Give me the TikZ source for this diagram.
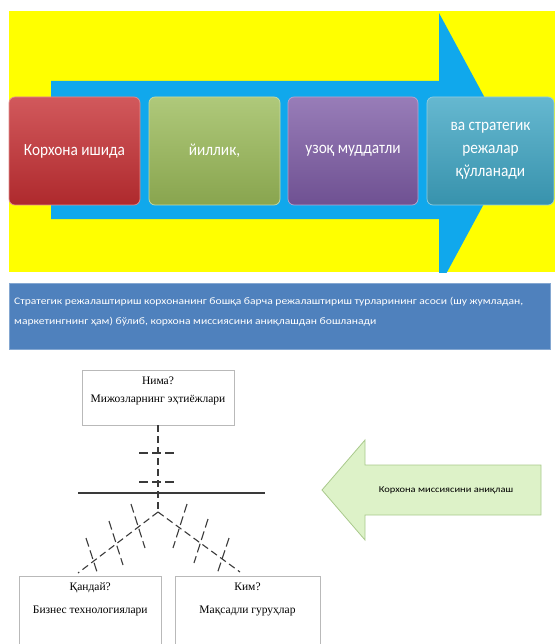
\documentclass[tikz,border=0pt]{standalone}
\usepackage{fontspec}
\setmainfont{Liberation Serif}
\newfontfamily\boxfont{Carlito}[FakeStretch=0.9]
\newfontfamily\bandfont{Carlito}[FakeStretch=1.16]

\definecolor{bgyellow}{HTML}{FFFF00}
\definecolor{arrowblue}{HTML}{10A8EC}
\definecolor{planred}{HTML}{C62F33}
\definecolor{plangreen}{HTML}{9BBB59}
\definecolor{planpurple}{HTML}{7E5CA6}
\definecolor{planteal}{HTML}{3FA6C4}
\definecolor{infoblue}{HTML}{4F81BD}
\definecolor{callgreen}{HTML}{DDF2C8}
\definecolor{calledge}{HTML}{A9C98C}
\definecolor{dashgray}{HTML}{3A3A3A}

\tikzset{
  planbox/.style={rounded corners=6pt, minimum height=108pt, text=white,
    font=\boxfont\fontsize{17}{23}\selectfont, align=center, inner sep=2pt,
    draw=#1!55!white, line width=0.7pt,
    top color=#1!80!white, bottom color=#1!88!black},
  infobox/.style={fill=infoblue, draw=infoblue!70!white, line width=0.8pt},
  infotext/.style={text=white, font=\bandfont\fontsize{10}{20}\selectfont,
    align=left, inner sep=0pt},
  framebox/.style={draw=gray!55, line width=0.8pt, fill=white},
  framelabel/.style={font=\fontsize{11.5}{18}\selectfont, align=center, inner sep=0pt},
  dashline/.style={draw=dashgray, line width=1.1pt, dash pattern=on 7pt off 4pt},
  tickline/.style={draw=dashgray, line width=1.1pt, dash pattern=on 9pt off 4pt},
  calltext/.style={font=\bandfont\fontsize{9}{12}\selectfont, inner sep=0pt},
}

\begin{document}
\begin{tikzpicture}[x=1pt,y=-1pt]
\useasboundingbox (0,0) rectangle (555,644);
\clip (0,0) rectangle (555,644);

% yellow field with the big blue arrow
\fill[bgyellow] (8.5,11) rectangle (555,272);
\begin{scope}
  \clip (8.5,11) rectangle (555,272);
  \fill[arrowblue] (51,81) -- (439,81) -- (439,13) -- (513,150)
    -- (439,287) -- (439,219) -- (51,219) -- cycle;
\end{scope}

% the four plan steps
\node[planbox=planred, minimum width=131pt] (b1) at (74.5,151) {Корхона ишида};
\node[planbox=plangreen, minimum width=131pt] (b2) at (214.5,151) {йиллик,};
\node[planbox=planpurple, minimum width=130pt] (b3) at (353,151) {узоқ муддатли};
\node[planbox=planteal, minimum width=127pt] (b4) at (490.5,151) {ва стратегик\\режалар\\қўлланади};

% explanatory band
\node[infobox, minimum width=541pt, minimum height=66pt] (info) at (279.5,316) {};
\node[infotext, anchor=north west] (infotxt) at (14,297)
  {Стратегик режалаштириш корхонанинг бошқа барча режалаштириш турларининг асоси (шу жумладан,\\
   маркетингнинг ҳам) бўлиб, корхона миссиясини аниқлашдан бошланади};

% mission tree
\node[framebox, minimum width=152pt, minimum height=55pt] (what) at (158,397.5) {};
\node[framelabel, anchor=north] (whattxt) at ([yshift=-7pt]what.north)
  {Нима?\\Мижозларнинг эҳтиёжлари};

\node[framebox, minimum width=141.5pt, minimum height=84pt] (how) at (90.25,618) {};
\node[framelabel, anchor=north, font=\fontsize{11.5}{23}\selectfont] (howtxt) at ([yshift=-7pt]how.north)
  {Қандай?\\Бизнес технологиялари};

\node[framebox, minimum width=145pt, minimum height=84pt] (who) at (247.5,618) {};
\node[framelabel, anchor=north, font=\fontsize{11.5}{23}\selectfont] (whotxt) at ([yshift=-7pt]who.north)
  {Ким?\\Мақсадли гуруҳлар};

\coordinate (J) at (158,512);
\coordinate (lend) at (78,573);
\coordinate (rend) at (240,572);
\coordinate (hl) at (78,493);
\coordinate (hr) at (265,493);

\draw[line width=1.1pt, draw=dashgray] (hl) -- (hr);
\draw[dashline] (what.south) -- (J);
\draw[dashline] (J) -- (lend);
\draw[dashline] (J) -- (rend);

% cross ticks
\draw[tickline] (139,453) -- ++(38,0);
\draw[tickline] (139,482) -- ++(38,0);
\draw[tickline] (131,504) -- ++(14,44);
\draw[tickline] (109,521) -- ++(14,44);
\draw[tickline] (86,538) -- ++(12,37);
\draw[tickline] (187,504) -- ++(-14,44);
\draw[tickline] (208,519) -- ++(-14,44);
\draw[tickline] (229,538) -- ++(-12,36);

% pointer toward the tree
\fill[callgreen, draw=calledge, line width=0.8pt]
  (541,465) -- (365,465) -- (365,440) -- (322,490) -- (365,540)
  -- (365,515) -- (541,515) -- cycle;
\node[calltext] (calltxt) at (446,490) {Корхона миссиясини аниқлаш};
\end{tikzpicture}
\end{document}
